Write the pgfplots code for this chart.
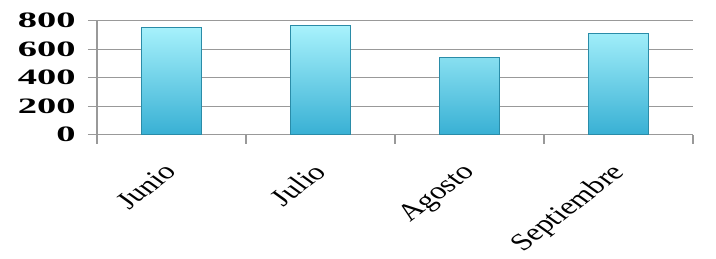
\documentclass[border=0pt]{standalone}
\usepackage{pgfplots}
\pgfplotsset{compat=1.18}
\usepackage{fontspec}
\setmainfont{Liberation Serif}
\definecolor{barTop}{HTML}{A8F2FC}
\definecolor{barBot}{HTML}{38B0D4}
\definecolor{barEdge}{HTML}{2A8CA8}
\definecolor{gridc}{HTML}{999999}
\begin{document}
\begin{tikzpicture}
\useasboundingbox (0,0) rectangle (716pt,259pt);
\begin{axis}[
  at={(97pt,124.3pt)}, anchor=south west,
  scale only axis, width=596pt, height=114pt,
  xmin=-0.5, xmax=3.5, ymin=0, ymax=800,
  ytick={0,200,...,800},
  /pgf/number format/assume math mode=true,
  xtick={0,1,2,3}, xticklabels={Junio,Julio,Agosto,Septiembre},
  minor xtick={-0.5,0.5,1.5,2.5,3.5},
  axis x line*=bottom, axis y line*=left,
  axis line style={draw=gridc, line width=1.2pt, -},
  ymajorgrids, major grid style={draw=gridc, line width=1.2pt},
  major x tick style={draw=none},
  minor x tick style={draw=gridc, line width=1.2pt},
  major y tick style={draw=gridc, line width=1.2pt},
  tick align=outside, major tick length=9pt, minor tick length=9pt,
  yticklabel style={font=\fontsize{22}{22}\selectfont\bfseries, xshift=-12pt, xscale=1.75, anchor=east, inner sep=0pt},
  xticklabel style={font=\fontsize{24}{24}\selectfont, xshift=-9pt, yshift=-18pt, xscale=1.35, rotate=46, anchor=north east, inner sep=0pt},
  ybar, bar width=60pt,
]
\addplot[draw=barEdge, line width=0.8pt, top color=barTop, bottom color=barBot]
  coordinates {(0,751) (1,765) (2,540) (3,709)};
\end{axis}
\end{tikzpicture}
\end{document}
